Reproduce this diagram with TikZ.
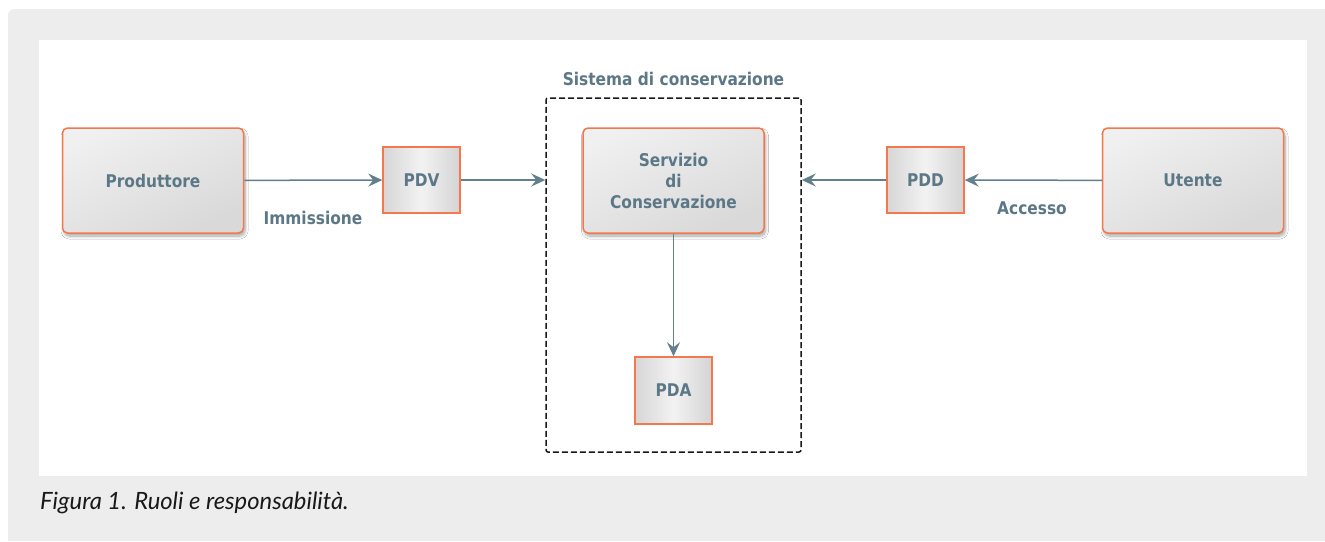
\documentclass[tikz,border=0pt]{standalone}
\usepackage{fontspec}
\usetikzlibrary{arrows.meta,shadows.blur}
\newfontfamily\diagfont[FakeStretch=0.88]{DejaVu Sans}
\newfontfamily\capfont{Lato}

\definecolor{pagegrey}{HTML}{EDEDED}
\definecolor{boxorange}{HTML}{F2784D}
\definecolor{slate}{HTML}{5C7887}
\definecolor{flowcol}{HTML}{627F8C}

\tikzset{
  lbl/.style={text=slate, font=\diagfont\bfseries\fontsize{17.5}{21}\selectfont},
  bigbox/.style={lbl, draw=boxorange, line width=1.5pt, rounded corners=5pt,
    minimum width=181pt, minimum height=105pt, align=center,
    top color=white!94!black, bottom color=white!85!black, shading angle=25,
    blur shadow={shadow xshift=1.5pt, shadow yshift=-3pt,
      shadow blur radius=3pt, shadow blur steps=8, shadow opacity=35}},
  smallbox/.style={lbl, draw=boxorange, line width=1.5pt,
    minimum width=77pt, minimum height=66pt,
    left color=white!84!black, right color=white!83!black, middle color=white!95!black},
  flow/.style={draw=flowcol, line width=1.5pt,
    -{Stealth[length=14pt, width=13pt, inset=5pt]}},
  sysbox/.style={draw=black!90, line width=1.5pt, dash pattern=on 6pt off 3pt,
    rounded corners=2pt, minimum width=255pt, minimum height=354pt}
}

\begin{document}
\begin{tikzpicture}[x=1pt, y=-1pt]
  \useasboundingbox (0,0) rectangle (1325,541);
  % page background and white panel
  \fill[pagegrey] (8,541) [rounded corners=6pt] -- (8,9) [sharp corners] -- (1325,9) -- (1325,541) -- cycle;
  \fill[white] (39,40) rectangle (1307,476);

  % conservation system frame
  \node[sysbox] (sys) at (673.5,275) {};
  \node[lbl] (systitle) at (673.5,79) {Sistema di conservazione};

  % actors and packages
  \node[bigbox] (prod) at (153,180.5) {Produttore};
  \node[bigbox] (serv) at (673.5,180.5) {Servizio\\di\\Conservazione};
  \node[bigbox] (ute) at (1193,180.5) {Utente};
  \node[smallbox] (pdv) at (421.5,180) {PDV};
  \node[smallbox] (pdd) at (925.5,180) {PDD};
  \node[smallbox, minimum height=67pt] (pda) at (673.5,390.5) {PDA};

  % flows
  \draw[flow] (prod) -- (pdv);
  \draw[flow] (pdv) -- (pdv -| sys.west);
  \draw[flow] (ute) -- (pdd);
  \draw[flow] (pdd) -- (pdd -| sys.east);
  \draw[flow] (serv) -- (pda);

  \node[lbl] (imm) at (313,217.5) {Immissione};
  \node[lbl] (acc) at (1032,208) {Accesso};

  % caption
  \node[anchor=base west, inner sep=0pt, text=black!90,
    font=\capfont\itshape\fontsize{23.8}{26}\selectfont] (cap) at (40,509)
    {Figura 1. Ruoli e responsabilità.};
\end{tikzpicture}
\end{document}
